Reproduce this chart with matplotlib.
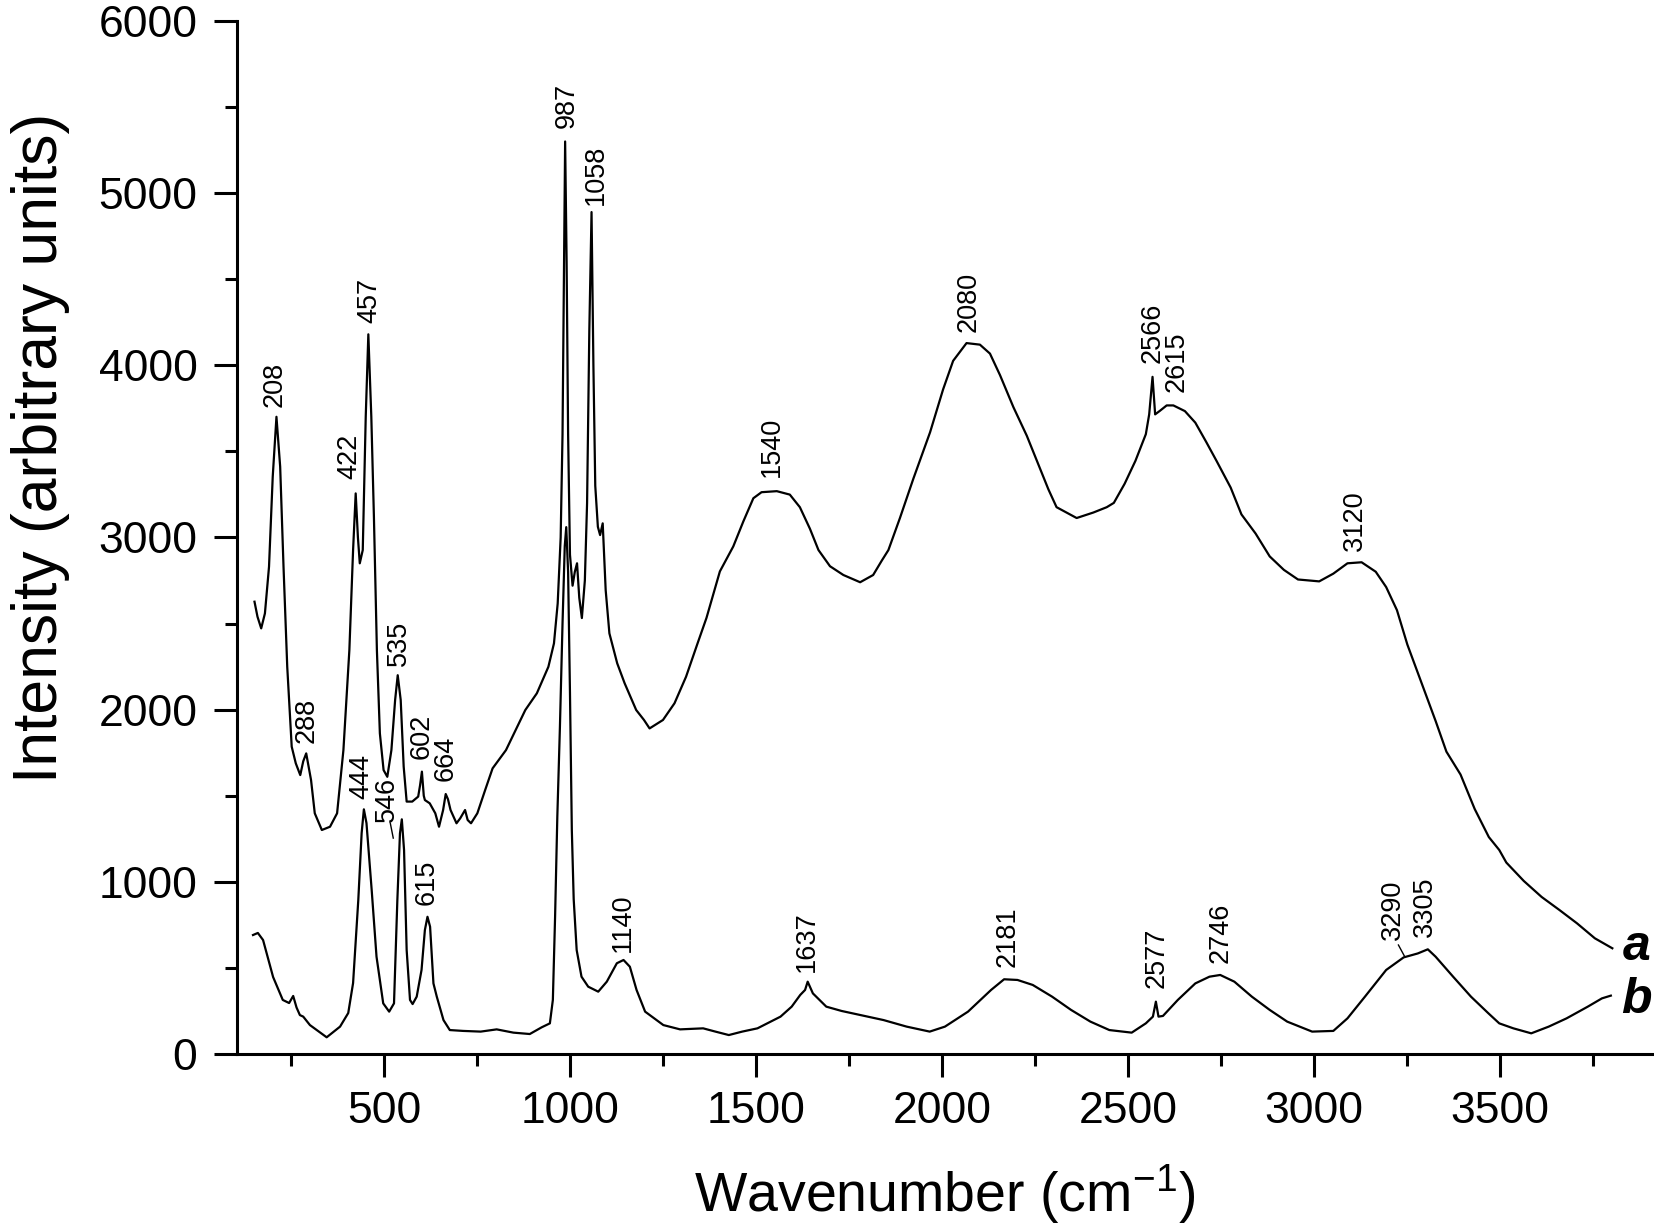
import matplotlib
matplotlib.use("Agg")
import matplotlib.pyplot as plt
from matplotlib.ticker import MultipleLocator

plt.rcParams['font.family'] = ['Liberation Sans', 'DejaVu Sans']
plt.rcParams['mathtext.default'] = 'regular'

# spectrum a (upper curve)
a_x = [152, 160, 170, 180, 191, 201, 211, 221, 230, 240, 252, 263, 275, 283, 291, 304, 314, 333,
       355, 374, 391, 407, 417, 424, 430, 435, 443, 451, 458, 466, 473, 481, 489, 499, 509, 520,
       530, 537, 545, 553, 561, 576, 592, 597, 602, 607, 610, 623, 638, 648, 659, 666, 672, 679,
       695, 705, 718, 725, 734, 751, 772, 792, 828, 880, 911, 942, 957, 967, 975, 980, 984, 987,
       991, 995, 1000, 1007, 1013, 1019, 1025, 1032, 1040, 1046, 1052, 1058, 1063, 1068, 1075,
       1081, 1088, 1096, 1106, 1127, 1147, 1178, 1199, 1214, 1250, 1281, 1312, 1343, 1367, 1403,
       1439, 1466, 1493, 1515, 1556, 1591, 1618, 1645, 1668, 1699, 1735, 1780, 1815, 1838, 1856,
       1887, 1923, 1968, 2003, 2030, 2066, 2102, 2129, 2156, 2192, 2228, 2263, 2286, 2308, 2362,
       2407, 2443, 2462, 2491, 2520, 2548, 2557, 2566, 2573, 2586, 2604, 2622, 2653, 2681, 2710,
       2738, 2776, 2805, 2843, 2881, 2919, 2957, 3014, 3052, 3090, 3128, 3166, 3194, 3223, 3251,
       3289, 3327, 3356, 3394, 3432, 3470, 3498, 3517, 3564, 3612, 3660, 3707, 3755, 3802]
a_y = [2627, 2540, 2472, 2559, 2830, 3353, 3701, 3411, 2830, 2249, 1785, 1688, 1620, 1700, 1746,
       1591, 1398, 1301, 1320, 1398, 1765, 2346, 2927, 3256, 3000, 2850, 2927, 3701, 4180, 3701,
       3120, 2346, 1862, 1649, 1610, 1765, 2056, 2200, 2056, 1669, 1466, 1466, 1495, 1560, 1640,
       1500, 1475, 1456, 1398, 1320, 1417, 1510, 1480, 1417, 1340, 1369, 1417, 1359, 1340, 1398,
       1533, 1659, 1765, 1998, 2095, 2249, 2385, 2617, 3000, 3600, 4600, 5300, 4600, 3600, 2900,
       2720, 2800, 2850, 2650, 2532, 2750, 3200, 4200, 4890, 4000, 3300, 3062, 3014, 3082, 2694,
       2443, 2269, 2153, 1998, 1940, 1891, 1940, 2037, 2191, 2385, 2533, 2803, 2948, 3093, 3228,
       3263, 3269, 3249, 3176, 3051, 2927, 2833, 2782, 2740, 2782, 2865, 2927, 3113, 3341, 3611,
       3860, 4026, 4129, 4120, 4068, 3943, 3757, 3591, 3404, 3280, 3176, 3113, 3145, 3176, 3201,
       3312, 3445, 3600, 3715, 3933, 3715, 3736, 3767, 3767, 3734, 3667, 3556, 3445, 3290, 3134,
       3023, 2890, 2812, 2756, 2745, 2790, 2850, 2856, 2801, 2712, 2578, 2378, 2156, 1934, 1756,
       1623, 1423, 1260, 1185, 1112, 1005, 912, 836, 759, 672, 614]

# spectrum b (lower curve)
b_x = [148, 161, 175, 202, 228, 245, 256, 265, 274, 283, 301, 346, 382, 404, 417, 431, 440, 446,
       453, 467, 480, 498, 514, 527, 536, 543, 548, 554, 561, 570, 577, 588, 601, 610, 617, 624,
       633, 642, 660, 677, 713, 760, 803, 848, 892, 924, 946, 954, 960, 966, 973, 980, 986, 990,
       995, 1000, 1005, 1010, 1018, 1031, 1049, 1076, 1099, 1126, 1144, 1161, 1179, 1202, 1251,
       1296, 1358, 1391, 1427, 1463, 1504, 1566, 1596, 1619, 1632, 1639, 1653, 1689, 1730, 1781,
       1843, 1905, 1967, 2008, 2070, 2132, 2167, 2203, 2244, 2296, 2347, 2399, 2450, 2510, 2548,
       2567, 2575, 2582, 2594, 2634, 2681, 2719, 2748, 2786, 2833, 2881, 2928, 2995, 3052, 3090,
       3137, 3194, 3241, 3279, 3306, 3327, 3374, 3422, 3469, 3498, 3536, 3584, 3631, 3679, 3736,
       3774, 3798]
b_y = [691, 703, 662, 447, 314, 296, 337, 270, 226, 217, 168, 97, 159, 238, 412, 894, 1283, 1421,
       1341, 952, 565, 294, 246, 294, 894, 1281, 1363, 1185, 604, 314, 290, 333, 488, 720, 797,
       739, 410, 333, 197, 139, 134, 130, 143, 124, 116, 155, 178, 314, 797, 1378, 1900, 2500,
       2950, 3060, 2800, 2100, 1300, 900, 604, 449, 391, 362, 420, 527, 546, 507, 372, 246, 168,
       143, 149, 130, 110, 130, 149, 217, 275, 343, 372, 420, 352, 275, 250, 226, 197, 159, 130,
       159, 246, 372, 434, 430, 401, 333, 256, 188, 139, 124, 178, 217, 304, 217, 221, 314, 410,
       449, 459, 420, 333, 256, 188, 130, 134, 207, 333, 488, 561, 584, 608, 565, 449, 333, 236,
       178, 149, 120, 159, 207, 275, 323, 339]

# peak labels: text, x, y of text bottom
peak_labels = ['208', '288', '422', '457', '535', '602', '664', '987', '1058', '1540', '2080',
               '2566', '2615', '3120',
               '444', '546', '615', '1140', '1637', '2181', '2577', '2746', '3290', '3305']
peak_x = [207, 293, 407, 460, 540, 602, 667, 991, 1070, 1542, 2071, 2565, 2632, 3110,
          439, 507, 615, 1142, 1636, 2176, 2576, 2750, 3213, 3297]
peak_y = [3757, 1808, 3339, 4245, 2253, 1713, 1587, 5380, 4930, 3352, 4193, 4013, 3845, 2923,
          1483, 1347, 865, 594, 478, 507, 381, 527, 662, 678]

# short leader lines for crowded labels
leader_x = [[525, 517], [3227, 3243]]
leader_y = [[1254, 1341], [633, 569]]

fig = plt.figure(figsize=(16.54, 12.26), dpi=100)
ax = fig.add_axes([0.1433, 0.1403, 0.8558, 0.8426])

ax.plot(a_x, a_y, color='black', lw=1.6)
ax.plot(b_x, b_y, color='black', lw=1.6)

for t, x, y in zip(peak_labels, peak_x, peak_y):
    ax.text(x, y, t, rotation=90, ha='center', va='bottom', fontsize=19.5)
for lx, ly in zip(leader_x, leader_y):
    ax.plot(lx, ly, color='black', lw=1.0)

ax.text(3831, 546, 'a', fontsize=36, fontweight='bold', fontstyle='italic',
        ha='left', va='baseline', clip_on=False)
ax.text(3825, 240, 'b', fontsize=36, fontweight='bold', fontstyle='italic',
        ha='left', va='baseline', clip_on=False)

ax.set_xlim(105, 3910)
ax.set_ylim(0, 6000)
ax.xaxis.set_major_locator(MultipleLocator(500))
ax.xaxis.set_minor_locator(MultipleLocator(250))
ax.yaxis.set_major_locator(MultipleLocator(1000))
ax.yaxis.set_minor_locator(MultipleLocator(500))
ax.set_xticks([500, 1000, 1500, 2000, 2500, 3000, 3500])

for s in ['top', 'right']:
    ax.spines[s].set_visible(False)
for s in ['left', 'bottom']:
    ax.spines[s].set_linewidth(2.2)

ax.tick_params(which='major', direction='out', length=16.5, width=2.2, labelsize=32)
ax.tick_params(which='minor', direction='out', length=8.5, width=2.2)
ax.tick_params(axis='x', which='major', pad=10)
ax.tick_params(axis='y', which='major', pad=12)

ax.set_xlabel('Wavenumber (cm$^{-1}$)', fontsize=40)
ax.set_ylabel('Intensity (arbitrary units)', fontsize=45)
ax.xaxis.set_label_coords(0.5, -0.105)
ax.yaxis.set_label_coords(-0.118, 0.587)

fig.savefig('out.png', dpi=100)
